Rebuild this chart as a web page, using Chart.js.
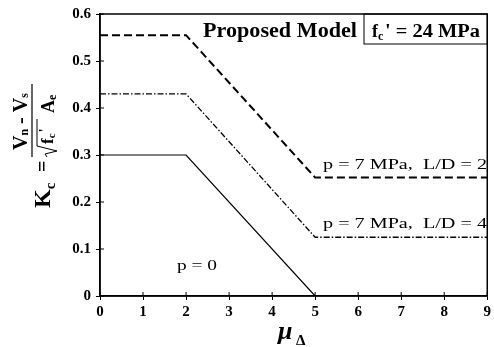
<!DOCTYPE html>
<html>
<head>
<meta charset="utf-8">
<script src="https://cdn.jsdelivr.net/npm/chart.js@4.4.1/dist/chart.umd.min.js"></script>
<style>
html,body{margin:0;padding:0;background:#fff;}
</style>
</head>
<body>
<canvas id="grafico" width="494" height="347"></canvas>
<script>

/* ============================= */
/* DATOS */
/* ============================= */

const ductilidad = [0, 2, 5, 9];
const kcLD2 = [0.555, 0.555, 0.252, 0.252];
const kcLD4 = [0.43, 0.43, 0.125, 0.125];

const ductilidadP0 = [0, 2, 5];
const kcP0 = [0.30, 0.30, 0];

const ticksX = ["0","1","2","3","4","5","6","7","8","9"];
const ticksY = ["0","0.1","0.2","0.3","0.4","0.5","0.6"];

const etiquetas = ["p = 7 MPa,  L/D = 2", "p = 7 MPa,  L/D = 4", "p = 0"];

const SERIF = "'Liberation Serif', 'Times New Roman', serif";


function puntos(xs, ys){
return xs.map((x,i)=>({x:x, y:ys[i]}));
}

/* texto estirado al ancho que tiene en la figura */
function textoAncho(ctx, texto, x, y, ancho){
let w = ctx.measureText(texto).width;
ctx.save();
ctx.translate(x, y);
ctx.scale(ancho / w, 1);
ctx.fillText(texto, 0, 0);
ctx.restore();
}


/* ============================= */
/* DECORACION (textos, marco) */
/* ============================= */

const decoracion = {

id:"decoracion",

afterDraw(chart){

const ctx = chart.ctx;
const a = chart.chartArea;
const sx = chart.scales.x;
const sy = chart.scales.y;

ctx.save();
ctx.strokeStyle = "#000";
ctx.fillStyle = "#000";

/* marco */
ctx.lineWidth = 1.5;
ctx.strokeRect(a.left, a.top, a.right - a.left, a.bottom - a.top);

/* ticks hacia adentro */
ctx.lineWidth = 1;
ctx.beginPath();
ticksX.forEach((t,i)=>{
let px = sx.getPixelForValue(i);
ctx.moveTo(px, a.bottom);
ctx.lineTo(px, a.bottom - 4);
});
ticksY.forEach((t,i)=>{
let py = sy.getPixelForValue(i/10);
ctx.moveTo(a.left, py);
ctx.lineTo(a.left + 4, py);
});
ctx.stroke();

/* titulo */
ctx.textBaseline = "alphabetic";
ctx.textAlign = "left";
ctx.font = "bold 20px " + SERIF;
textoAncho(ctx, "Proposed Model", 203, 37, 154);

/* caja f'c */
ctx.lineWidth = 1;
ctx.strokeRect(364, a.top, a.right - 364, 44 - a.top);
ctx.font = "bold 18px " + SERIF;
ctx.fillText("f", 372, 37);
let wf = ctx.measureText("f").width;
ctx.font = "bold 12px " + SERIF;
ctx.fillText("c", 372 + wf, 40);
ctx.font = "bold 18px " + SERIF;
textoAncho(ctx, "' = 24 MPa", 372 + wf + 7, 37, 480 - (372 + wf + 7));

/* etiquetas de curvas */
ctx.font = "15px " + SERIF;
textoAncho(ctx, etiquetas[0], 323, 169, 164);
textoAncho(ctx, etiquetas[1], 323, 228, 164);
textoAncho(ctx, etiquetas[2], 177, 270, 40);

/* eje x: mu delta */
ctx.font = "bold italic 26px " + SERIF;
ctx.fillText("\u03BC", 278, 339);
ctx.font = "bold 15px " + SERIF;
ctx.fillText("\u0394", 296, 345);

/* eje y: Kc = (Vn - Vs) / (sqrt(f'c) Ae) rotado */
ctx.translate(0, 347);
ctx.rotate(-Math.PI/2);

/* Kc = */
ctx.font = "bold 24px " + SERIF;
ctx.fillText("K", 139, 50);
let wk = ctx.measureText("K").width;
ctx.font = "bold 15px " + SERIF;
ctx.fillText("c", 139 + wk, 55);
ctx.font = "bold 20px " + SERIF;
ctx.fillText("=", 175, 49);

/* barra de fraccion */
ctx.lineWidth = 1.2;
ctx.beginPath();
ctx.moveTo(190, 32);
ctx.lineTo(263, 32);
ctx.stroke();

/* numerador */
let u = 197;
ctx.font = "bold 20px " + SERIF;
ctx.fillText("V", u, 27);
u += ctx.measureText("V").width;
ctx.font = "bold 12px " + SERIF;
ctx.fillText("n", u, 28);
u += ctx.measureText("n").width;
ctx.font = "bold 20px " + SERIF;
ctx.fillText(" - V", u, 27);
u += ctx.measureText(" - V").width;
ctx.font = "bold 12px " + SERIF;
ctx.fillText("s", u, 28);

/* denominador */
ctx.lineWidth = 1;
ctx.beginPath();
ctx.moveTo(190, 47);
ctx.lineTo(193, 45);
ctx.lineTo(196, 57);
ctx.lineTo(201, 37);
ctx.lineTo(228, 37);
ctx.stroke();
u = 203;
ctx.font = "bold 17px " + SERIF;
ctx.fillText("f", u, 53);
u += ctx.measureText("f").width;
ctx.font = "bold 11px " + SERIF;
ctx.fillText("c", u, 55);
u += ctx.measureText("c").width;
ctx.font = "bold 15px " + SERIF;
ctx.fillText("'", u + 1, 49);
u = 234;
ctx.font = "bold 18px " + SERIF;
ctx.fillText("A", u, 54);
u += ctx.measureText("A").width;
ctx.font = "bold 12px " + SERIF;
ctx.fillText("e", u, 56);

ctx.restore();

}

};


/* ============================= */
/* GRAFICO */
/* ============================= */

new Chart(document.getElementById("grafico"), {

type:"line",

data:{
datasets:[
{
label:etiquetas[0],
data:puntos(ductilidad, kcLD2),
borderColor:"#000",
borderWidth:2,
borderDash:[8,4],
pointRadius:0,
tension:0
},
{
label:etiquetas[1],
data:puntos(ductilidad, kcLD4),
borderColor:"#000",
borderWidth:1.3,
borderDash:[6,2,1.5,2],
pointRadius:0,
tension:0
},
{
label:etiquetas[2],
data:puntos(ductilidadP0, kcP0),
borderColor:"#000",
borderWidth:1.2,
pointRadius:0,
tension:0
}
]
},

options:{

responsive:false,
animation:false,

layout:{
padding:{top:13, right:3, left:0, bottom:0}
},

plugins:{
legend:{display:false},
tooltip:{enabled:false}
},

scales:{

x:{
type:"linear",
min:0,
max:9,
afterFit(s){ s.height = 51; },
ticks:{
stepSize:1,
color:"#000",
padding:3,
font:{family:SERIF, size:15, weight:"bold"},
callback:(v,i)=>ticksX[i]
},
grid:{drawOnChartArea:false, color:"#000", tickLength:4},
border:{color:"#000", width:1.5}
},

y:{
type:"linear",
min:0,
max:0.6,
afterFit(s){ s.width = 100; },
ticks:{
stepSize:0.1,
color:"#000",
padding:5,
font:{family:SERIF, size:15, weight:"bold"},
callback:(v,i)=>ticksY[i]
},
grid:{drawOnChartArea:false, color:"#000", tickLength:4},
border:{color:"#000", width:1.5}
}

}

},

plugins:[decoracion]

});

</script>
</body>
</html>
